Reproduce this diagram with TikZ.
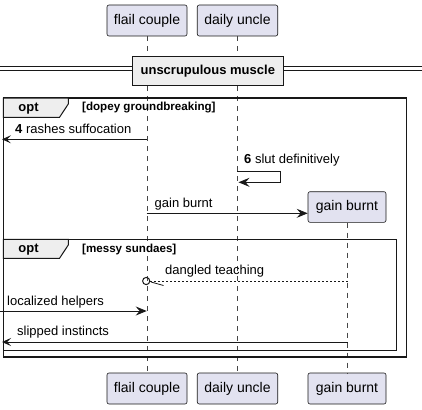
\documentclass[tikz,border=0pt]{standalone}
\usepackage{fontspec}
\setmainfont{Liberation Sans}
\usetikzlibrary{arrows.meta}
\definecolor{partfill}{HTML}{E2E2F0}
\definecolor{partline}{HTML}{181818}
\definecolor{grpfill}{HTML}{EEEEEE}
\tikzset{
  part/.style={draw=partline, line width=0.6pt, fill=partfill, rounded corners=2pt,
    minimum height=31pt, inner sep=0pt, font=\fontsize{14}{16}\selectfont},
  lifeline/.style={draw=partline!80, line width=0.5pt, dash pattern=on 5pt off 5pt},
  msg/.style={draw=partline, line width=0.8pt, -{Stealth[length=11pt,width=9pt,inset=4pt]}},
  edgemsg/.style={draw=partline, line width=0.8pt, -{Stealth[length=9pt,width=8pt,inset=4pt]}},
  lbl/.style={anchor=mid west, inner sep=0pt, font=\fontsize{13}{15}\selectfont},
  frame/.style={draw=partline, line width=1.5pt},
  tab/.style={draw=partline, line width=1pt, fill=grpfill},
  tabtext/.style={inner sep=0pt, font=\bfseries\fontsize{13}{15}\selectfont},
  guard/.style={anchor=mid west, inner sep=0pt, font=\bfseries\fontsize{11.6}{13}\selectfont},
}
\begin{document}
\begin{tikzpicture}[x=1pt,y=-1pt]
\useasboundingbox (0,0) rectangle (422,409);
% participants
\node[part, minimum width=80pt] (fcT) at (147,20.5) {flail couple};
\node[part, minimum width=80.5pt] (duT) at (237.5,20.5) {daily uncle};
\node[part, minimum width=80pt] (fcB) at (147,388.5) {flail couple};
\node[part, minimum width=80.5pt] (duB) at (237.5,388.5) {daily uncle};
\node[part, minimum width=78pt] (gbB) at (347,388.5) {gain burnt};
\node[part, minimum width=78pt, minimum height=30.6pt] (gbT) at (347,207) {gain burnt};
% lifelines
\draw[lifeline] (fcT.south) -- (fcB.north);
\draw[lifeline] (duT.south) -- (duB.north);
\draw[lifeline] (gbT.south) -- (gbB.north);
% divider
\coordinate (dvL) at (0,66.8);
\coordinate (dvR) at (422,66.8);
\coordinate (dvL2) at (0,71);
\coordinate (dvR2) at (422,71);
\draw[partline, line width=1pt] (dvL) -- (dvR);
\draw[partline, line width=1pt] (dvL2) -- (dvR2);
\node[draw=partline, line width=1.5pt, fill=grpfill, minimum width=151pt, minimum height=29pt,
  inner sep=0pt, font=\bfseries\fontsize{13}{15}\selectfont] (div) at (207.8,71.2) {unscrupulous muscle};
% outer opt frame
\draw[frame] (3.3,98) rectangle (406.7,357);
\draw[tab] (3.3,98) -- (68.3,98) -- (68.3,104) -- (59.5,117.3) -- (3.3,117.3) -- cycle;
\node[tabtext] (opt1) at (28.5,108.5) {opt};
\node[guard] (g1) at (82,108) {[dopey groundbreaking]};
% inner opt frame
\draw[frame] (3.3,239.3) rectangle (396.7,350.7);
\draw[tab] (3.3,239.3) -- (68.3,239.3) -- (68.3,245) -- (59.5,258.3) -- (3.3,258.3) -- cycle;
\node[tabtext] (opt2) at (28.5,249.8) {opt};
\node[guard] (g2) at (82,249.5) {[messy sundaes]};
% message 4
\coordinate (m4s) at (146.7,139.3);
\coordinate (m4e) at (2,139.3);
\draw[edgemsg] (m4s) -- (m4e);
\node[lbl] (t4) at (15,130.5) {\textbf{4} rashes suffocation};
% self message 6
\coordinate (m6s) at (237.3,171);
\coordinate (m6a) at (280.7,171);
\coordinate (m6b) at (280.7,182.3);
\coordinate (m6e) at (238.5,182.3);
\draw[msg] (m6s) -- (m6a) -- (m6b) -- (m6e);
\node[lbl] (t6) at (244,160.7) {\textbf{6} slut definitively};
% create gain burnt
\coordinate (mgs) at (146.7,213.3);
\draw[msg] (mgs) -- (gbT.west |- mgs);
\node[lbl] (tg) at (154.5,205) {gain burnt};
% dangled teaching
\coordinate (mds) at (347.7,281);
\coordinate (mdc) at (146.2,281);
\coordinate (mde) at (150,281);
\coordinate (mdh1) at (151,282);
\coordinate (mdh2) at (163.5,285.5);
\draw[partline, line width=0.8pt, dash pattern=on 2pt off 2pt] (mds) -- (mde);
\draw[partline, line width=1pt] (mdc) circle (3.6pt);
\draw[partline, line width=0.8pt] (mdh1) -- (mdh2);
\node[lbl] (td) at (165,271.5) {dangled teaching};
% localized helpers
\coordinate (mls) at (0,311);
\coordinate (mle) at (146.7,311);
\draw[msg] (mls) -- (mle);
\node[lbl] (tl) at (7,302.5) {localized helpers};
% slipped instincts
\coordinate (mss) at (347.7,342);
\coordinate (mse) at (2,342);
\draw[edgemsg] (mss) -- (mse);
\node[lbl] (ts) at (17,332.5) {slipped instincts};
\end{tikzpicture}
\end{document}
